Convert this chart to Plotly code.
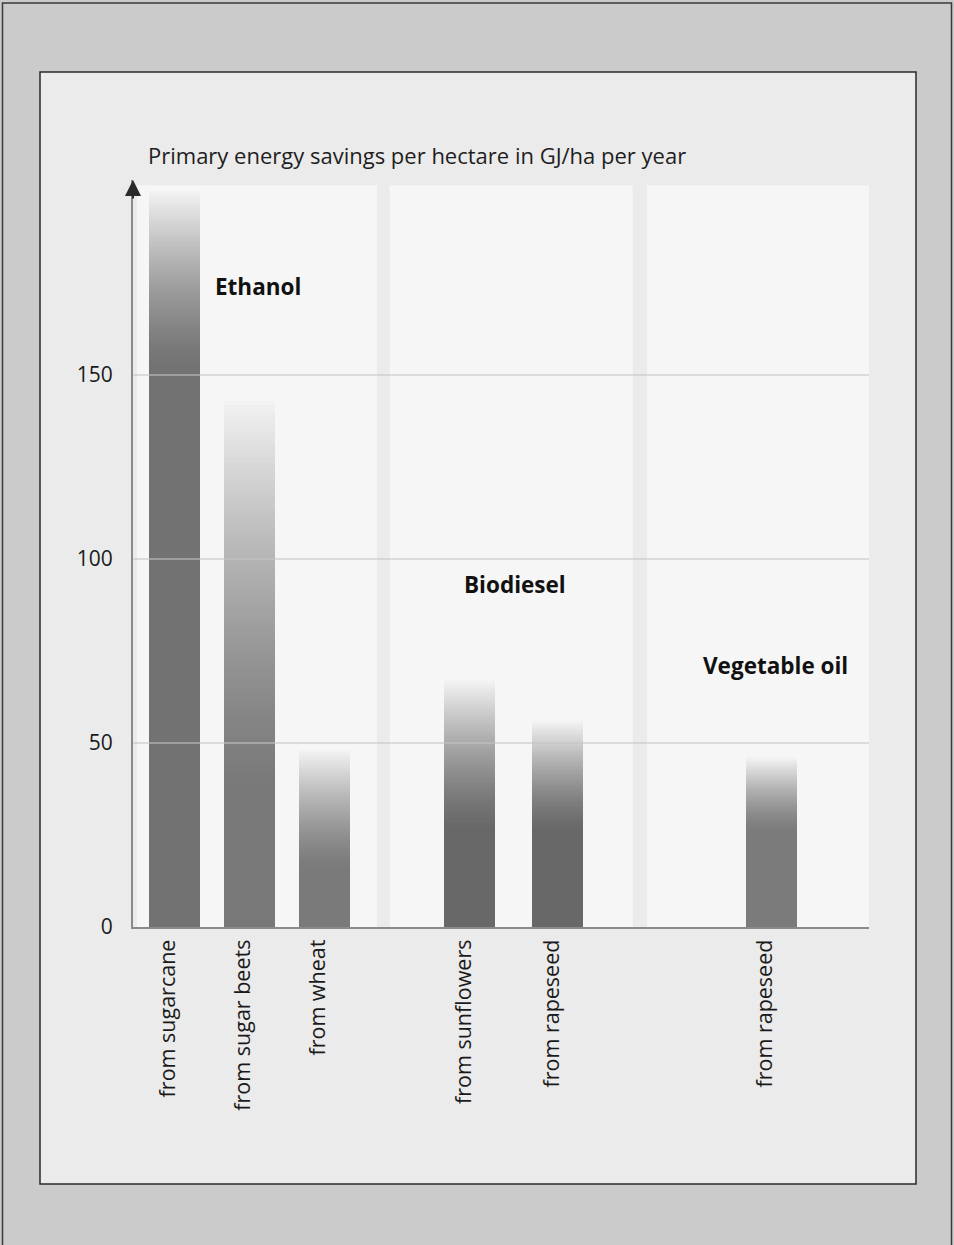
import plotly.graph_objects as go

# ---------------- data ----------------
title_text = "Primary energy savings per hectare in GJ/ha per year"
categories = ["from sugarcane", "from sugar beets", "from wheat",
              "from sunflowers", "from rapeseed", "from rapeseed"]
values = [200, 143, 48, 67, 56, 46]
group_names = ["Ethanol", "Biodiesel", "Vegetable oil"]
group_of_bar = [0, 0, 0, 1, 1, 2]
y_tick_values = [0, 50, 100, 150]
y_tick_labels = ["0", "50", "100", "150"]

# ---------------- layout / style ----------------
slot_pos = [0, 1, 2, 3.94, 5.11, 7.96]          # x slot of each bar
bar_width = 0.68
fade_from = [151, 35, 15.5, 26, 26, 26]          # value where the fade starts
solid_gray = [114, 120, 122, 104, 104, 123]      # solid bar gray level
top_gray = 243
n_steps = 90
panel_spans = [(-0.5, 2.7), (2.87, 6.11), (6.3, 9.26)]
panel_top = 201.6
group_label_pos = [(1.11, 174), (4.54, 93), (8.01, 71)]
x_range = [-0.553, 9.26]
y_range = [0, 203]

W, H = 954, 1245
plot_l, plot_r, plot_t, plot_b = 133, 869, 180, 927
FONT = "Open Sans"


def gray(v):
    v = int(round(v))
    return f"rgb({v},{v},{v})"


# build bar segments (solid base + fading top)
seg_x, seg_base, seg_len, seg_col = [], [], [], []
for i, v in enumerate(values):
    f = min(fade_from[i], v)
    seg_x.append(slot_pos[i]); seg_base.append(0); seg_len.append(f)
    seg_col.append(gray(solid_gray[i]))
    step = (v - f) / n_steps
    for k in range(n_steps):
        t = (k + 0.5) / n_steps
        e = t ** 1.4
        seg_x.append(slot_pos[i])
        seg_base.append(f + k * step)
        seg_len.append(step)
        seg_col.append(gray(solid_gray[i] + (top_gray - solid_gray[i]) * e))

fig = go.Figure()
fig.add_trace(go.Bar(
    x=seg_x, y=seg_len, base=seg_base, width=bar_width,
    marker=dict(color=seg_col, line=dict(width=0)),
    hoverinfo="skip", showlegend=False,
))

shapes = []
# outer frame
shapes.append(dict(type="rect", xref="paper", yref="paper",
                   x0=2.5 / W, x1=951.5 / W, y0=-0.01, y1=1 - 3 / H,
                   line=dict(color="#3a3a3a", width=1.5), fillcolor="#cbcbcb", layer="below"))
# inner box
shapes.append(dict(type="rect", xref="paper", yref="paper",
                   x0=40 / W, x1=916 / W, y0=1 - 1184 / H, y1=1 - 72 / H,
                   line=dict(color="#2a2a2a", width=1.5), fillcolor="#ebebeb", layer="below"))
# light panels behind each group
for (a, b) in panel_spans:
    shapes.append(dict(type="rect", xref="x", yref="y", x0=a, x1=b, y0=0, y1=panel_top,
                       line=dict(width=0), fillcolor="#f6f6f6", layer="below"))
# grid lines drawn above the bars
for yv in y_tick_values[1:]:
    shapes.append(dict(type="line", xref="x", yref="y", x0=x_range[0], x1=x_range[1],
                       y0=yv, y1=yv, line=dict(color="rgba(196,196,196,0.55)", width=2),
                       layer="above"))

annotations = []
annotations.append(dict(xref="paper", yref="paper", x=146 / W, y=1 - 155 / H,
                        xanchor="left", yanchor="middle", showarrow=False,
                        text=title_text, font=dict(family=FONT, size=22, color="#1e1e1e")))
for name, (gx, gy) in zip(group_names, group_label_pos):
    annotations.append(dict(xref="x", yref="y", x=gx, y=gy, showarrow=False,
                            text=f"<b>{name}</b>",
                            font=dict(family=FONT, size=22.5, color="#111111")))
# arrow head on the y axis
annotations.append(dict(xref="x", yref="y", x=x_range[0], y=y_range[1], text="",
                        showarrow=True, ax=0, ay=20, axref="pixel", ayref="pixel",
                        arrowhead=2, arrowsize=1.6, arrowwidth=2, arrowcolor="#2a2a2a",
                        standoff=0))

fig.update_layout(
    width=W, height=H, autosize=False,
    margin=dict(l=0, r=0, t=0, b=0, pad=0, autoexpand=False),
    paper_bgcolor="#cbcbcb",
    plot_bgcolor="rgba(0,0,0,0)",
    barmode="overlay",
    bargap=0,
    showlegend=False,
    shapes=shapes,
    annotations=annotations,
    xaxis=dict(domain=[plot_l / W, plot_r / W], range=x_range, automargin=False,
               tickmode="array", tickvals=slot_pos, ticktext=categories,
               tickangle=-90, ticks="", ticklabelstandoff=2, ticklabelshift=-6,
               tickfont=dict(family=FONT, size=21.5, color="#1a1a1a"),
               showgrid=False, zeroline=False,
               showline=True, linecolor="#8a8a8a", linewidth=2),
    yaxis=dict(domain=[1 - plot_b / H, 1 - plot_t / H], range=y_range, automargin=False,
               tickmode="array", tickvals=y_tick_values, ticktext=y_tick_labels,
               ticks="", ticklabelstandoff=14,
               tickfont=dict(family=FONT, size=21, color="#1a1a1a"),
               showgrid=False, zeroline=False,
               showline=True, linecolor="#8a8a8a", linewidth=2),
)

fig.write_html("out.html",
               config={"displayModeBar": False, "responsive": False},
               post_script="document.body.style.margin='0';document.body.style.overflow='hidden';")
